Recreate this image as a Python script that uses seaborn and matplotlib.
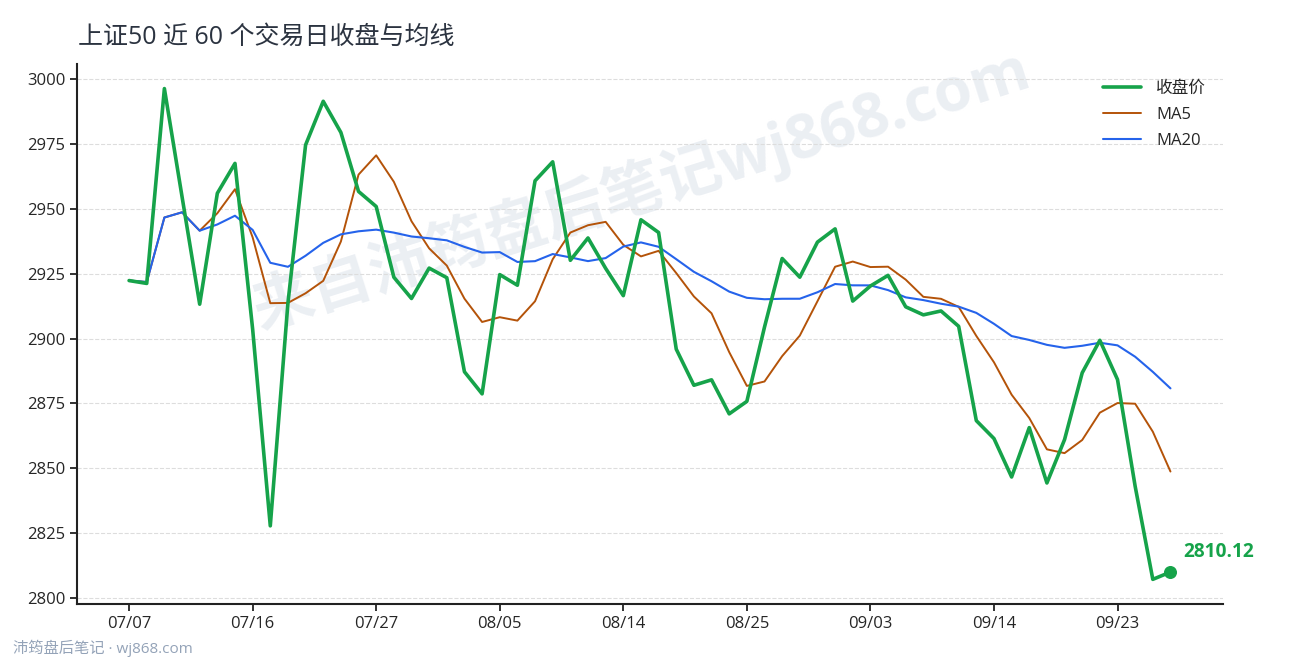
import pandas as pd
import matplotlib
matplotlib.use("Agg")
import matplotlib.pyplot as plt
import seaborn as sns

# 收盘价 (60 trading days)
close = [
    2922.3, 2921.2, 2996.2, 2954.6, 2913.2, 2955.9, 2967.4, 2903.6, 2827.9, 2913.7,
    2974.5, 2991.3, 2979.3, 2956.6, 2950.8, 2923.6, 2915.4, 2927.1, 2923.4, 2887.2,
    2878.7, 2924.6, 2920.5, 2960.7, 2968.0, 2930.1, 2938.7, 2927.0, 2916.5, 2945.7,
    2940.8, 2895.9, 2882.0, 2884.1, 2871.0, 2875.8, 2904.4, 2930.8, 2923.6, 2937.1,
    2942.2, 2914.4, 2920.2, 2924.3, 2912.2, 2909.1, 2910.6, 2904.7, 2868.4, 2861.5,
    2846.7, 2865.7, 2844.4, 2861.1, 2886.8, 2899.3, 2884.2, 2843.1, 2807.3, 2810.12,
]
tick_labels = ["07/07", "07/16", "07/27", "08/05", "08/14",
               "08/25", "09/03", "09/14", "09/23"]
tick_step = 7

df = pd.DataFrame({"day": range(len(close)), "close": close})
df["ma5"] = df["close"].rolling(5, min_periods=1).mean()
df["ma20"] = df["close"].rolling(20, min_periods=1).mean()

GREEN = "#16a34a"
ORANGE = "#b45309"
BLUE = "#2563eb"

sns.set_theme(style="white")
plt.rcParams["font.family"] = ["Open Sans", "Noto Sans CJK SC", "DejaVu Sans"]
plt.rcParams["axes.unicode_minus"] = False
BOLD_FAMILY = ["Open Sans", "Noto Sans CJK SC", "DejaVu Sans"]

fig = plt.figure(figsize=(12.9, 6.6), dpi=100)
ax = fig.add_axes([0.0597, 0.085, 0.888, 0.818])

sns.lineplot(data=df, x="day", y="close", ax=ax, color=GREEN, linewidth=2.6,
             label="收盘价", zorder=4)
sns.lineplot(data=df, x="day", y="ma5", ax=ax, color=ORANGE, linewidth=1.4,
             label="MA5", zorder=2)
sns.lineplot(data=df, x="day", y="ma20", ax=ax, color=BLUE, linewidth=1.5,
             label="MA20", zorder=3)

# last point
last = df.iloc[-1]
ax.scatter([last["day"]], [last["close"]], s=70, color=GREEN, zorder=5)
ax.annotate(f"{last['close']:.2f}", (last["day"], last["close"]),
            xytext=(9, 7), textcoords="offset points", family=BOLD_FAMILY,
            color=GREEN, fontsize=13.8, fontweight="bold", va="bottom")

ax.set_xticks(range(0, len(close), tick_step))
ax.set_xticklabels(tick_labels)
ax.set_xlabel("")
ax.set_ylabel("")
ax.tick_params(axis="both", labelsize=12, length=5, width=1.3, color="#222222",
               direction="out", bottom=True, left=True)

ax.grid(axis="y", linestyle="--", color="#dddddd", linewidth=0.8)
ax.grid(axis="x", visible=False)
for side in ["top", "right"]:
    ax.spines[side].set_visible(False)
for side in ["left", "bottom"]:
    ax.spines[side].set_color("#222222")
    ax.spines[side].set_linewidth(1.5)

ax.legend(loc="upper right", frameon=False, fontsize=12, handlelength=2.3,
          handletextpad=0.9, labelspacing=0.6, borderaxespad=0.6)

# watermark
ax.text(0.493, 0.767, "来自沛筠盘后笔记wj868.com", transform=ax.transAxes,
        family=BOLD_FAMILY, fontsize=44, fontweight="bold", color="#cbd5e1",
        alpha=0.38, rotation=17.5, ha="center", va="center", zorder=0.5)

fig.text(0.0605, 0.944, "上证50 近 60 个交易日收盘与均线", fontsize=18,
         color="#2b3340", ha="left", va="center")
fig.text(0.010, 0.018, "沛筠盘后笔记 · wj868.com", fontsize=11,
         color="#94a3b8", ha="left", va="center")

fig.savefig("out.png", dpi=100)
